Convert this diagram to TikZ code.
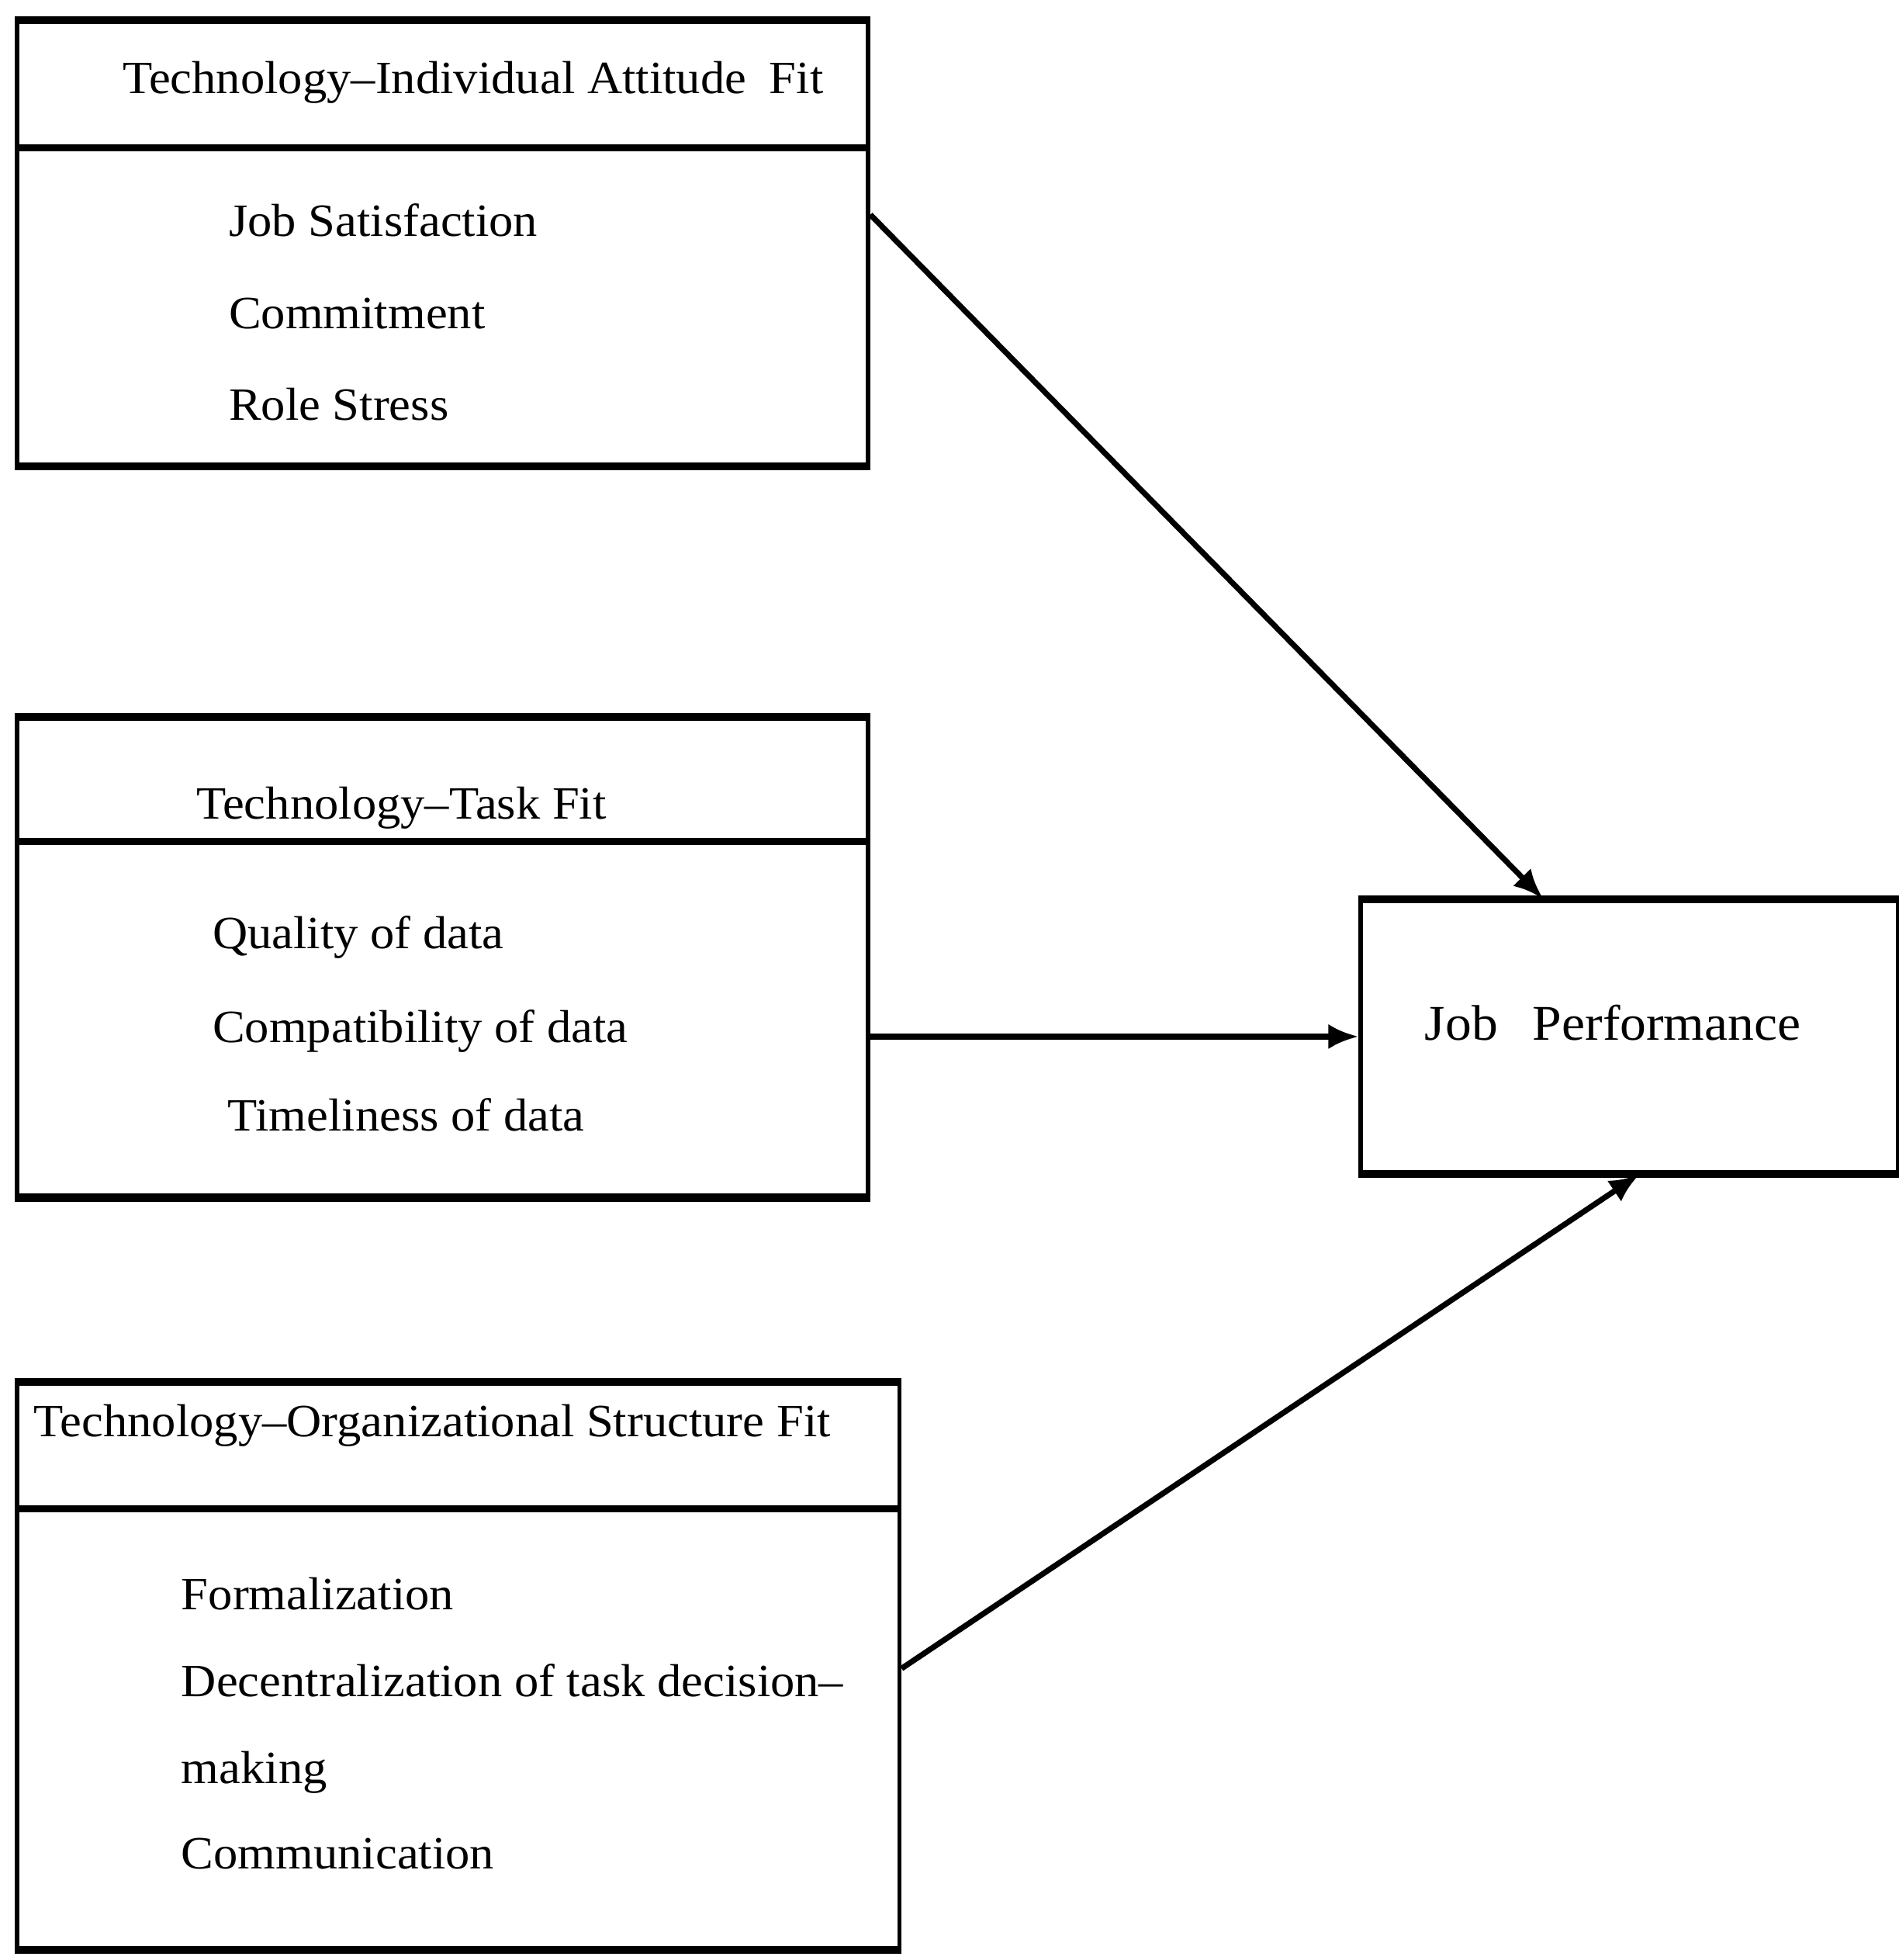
\documentclass[tikz,border=0pt]{standalone}
\usepackage{fontspec}
\setmainfont{Liberation Serif}[FakeStretch=1.05]
\usetikzlibrary{arrows.meta}
\begin{document}
\begin{tikzpicture}[x=1pt,y=-1pt,
  boxv/.style={draw,rectangle,line width=3.5pt,inner sep=0pt},
  hline/.style={line width=5.5pt},
  txt/.style={inner sep=0pt,font=\fontsize{37}{44}\selectfont,anchor=base west},
  conn/.style={line width=4.5pt,-{Latex[length=24pt,width=20pt]}}]
\useasboundingbox (0,0) rectangle (1519,1568);
% boxes
\node[boxv,anchor=north west,minimum width=681pt,minimum height=354pt] (b1) at (12,16) {};
\node[boxv,anchor=north west,minimum width=681pt,minimum height=382pt] (b2) at (12,573) {};
\node[boxv,anchor=north west,minimum width=706pt,minimum height=452pt] (b3) at (12,1105) {};
\node[boxv,anchor=north west,minimum width=430pt,minimum height=217pt] (jp) at (1087,719) {};
% thicker horizontal edges and dividers
\foreach \b in {b1,b2,b3,jp}{
  \draw[hline] (\b.north west) -- (\b.north east);
  \draw[hline] (\b.south west) -- (\b.south east);
}
\draw[hline] (b1.west |- 0,118) -- (b1.east |- 0,118);
\draw[hline] (b2.west |- 0,673) -- (b2.east |- 0,673);
\draw[hline] (b3.west |- 0,1207) -- (b3.east |- 0,1207);
% texts
\node[txt] (t1) at (98,75) {Technology–Individual Attitude\hspace{0.5em}Fit};
\node[txt] (i11) at (183,189) {Job Satisfaction};
\node[txt] (i12) at (183,263) {Commitment};
\node[txt] (i13) at (183,336) {Role Stress};
\node[txt] (t2) at (157,655) {Technology–Task Fit};
\node[txt] (i21) at (170,759) {Quality of data};
\node[txt] (i22) at (170,834) {Compatibility of data};
\node[txt] (i23) at (182,905) {Timeliness of data};
\node[txt] (t3) at (27,1149) {Technology–Organizational Structure Fit};
\node[txt] (i31) at (145,1288) {Formalization};
\node[txt] (i32) at (145,1357) {Decentralization of task decision–};
\node[txt] (i33) at (145,1427) {making};
\node[txt] (i34) at (145,1495) {Communication};
\node[txt,font=\fontsize{40}{48}\selectfont] (jpt) at (1140,832) {Job\hspace{0.7em}Performance};
% connectors
\draw[conn] ([yshift=23pt]b1.east) -- ([xshift=-69pt]jp.north);
\draw[conn] (b2.east |- jp.west) -- (jp.west);
\draw[conn] ([yshift=-2pt]b3.east) -- ([xshift=8pt]jp.south);
\end{tikzpicture}
\end{document}
